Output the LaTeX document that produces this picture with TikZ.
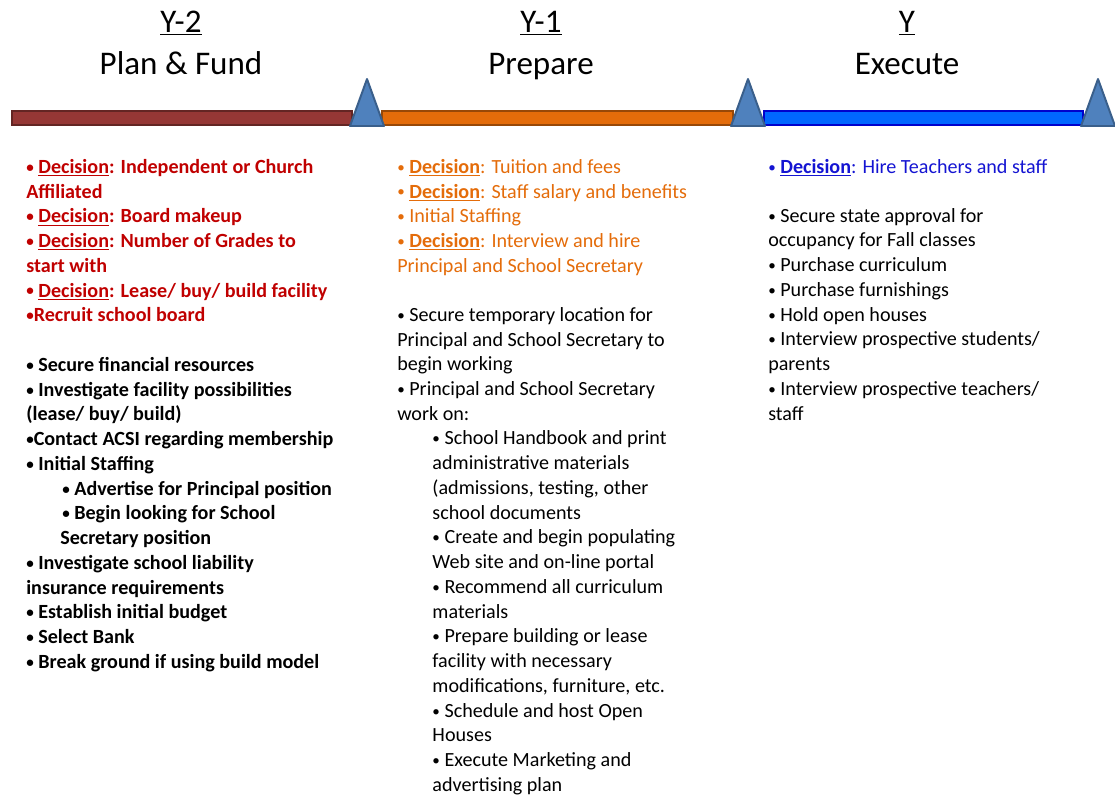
\documentclass[tikz,border=0pt]{standalone}
\usepackage{fontspec}
\setmainfont{Carlito}
\usepackage{xcolor}
\usepackage{tikz}
\usetikzlibrary{positioning}

\definecolor{fundred}{HTML}{953735}
\definecolor{fundredline}{HTML}{632523}
\definecolor{fundtext}{HTML}{C00000}
\definecolor{preporange}{HTML}{E46C0A}
\definecolor{prepline}{HTML}{984807}
\definecolor{execblue}{HTML}{0066FF}
\definecolor{execline}{HTML}{0000CC}
\definecolor{exectext}{HTML}{1414D2}
\definecolor{mileblue}{HTML}{4F81BD}
\definecolor{mileline}{HTML}{3A5F8B}

\tikzset{phasehead/.style={align=center, inner sep=0pt, font={\fontsize{23.5}{29.5}\selectfont}}}
\tikzset{phasebar/.style={line width=1.4pt}}
\tikzset{milestone/.style={line width=1.4pt, fill=mileblue, draw=mileline, line join=round}}
\tikzset{tasklist/.style={anchor=north west, align=left, inner sep=0pt, font={\fontsize{14.3}{17.6}\selectfont}}}

\newcommand{\decision}{\underline{\textbf{Decision}}}
\newcommand{\bul}{\raisebox{0.12ex}{\scalebox{0.75}{•}}}

\begin{document}
\begin{tikzpicture}[x=0.025cm, y=-0.025cm]
\useasboundingbox (0,0) rectangle (1115,795);

\node[phasehead] (head1) at (181,45) {\strut\underline{Y-2}\\\strut Plan \& Fund};
\node[phasehead] (head2) at (541,45) {\strut\underline{Y-1}\\\strut Prepare};
\node[phasehead] (head3) at (907,45) {\strut\underline{Y}\\\strut Execute};

\draw[phasebar, fill=fundred, draw=fundredline] (12,111) rectangle (352,125);
\draw[phasebar, fill=preporange, draw=prepline] (382,111) rectangle (733,125);
\draw[phasebar, fill=execblue, draw=execline] (764,111) rectangle (1083,125);

\draw[milestone] (350,126) -- (367,79) -- (384,126) -- cycle;
\draw[milestone] (731,126) -- (748,79) -- (765,126) -- cycle;
\draw[milestone] (1081,126) -- (1098,79) -- (1115,126) -- cycle;

\node[tasklist, text=fundtext, font={\bfseries\fontsize{14.3}{17.6}\selectfont}] (fund1) at (26,159) {%
\bul{} \decision: Independent or Church\\
Affiliated\\
\bul{} \decision: Board makeup\\
\bul{} \decision: Number of Grades to\\
start with\\
\bul{} \decision: Lease/ buy/ build facility\\
\bul Recruit school board};

\node[tasklist, font={\bfseries\fontsize{14.3}{17.6}\selectfont}] (fund2) at (26,357) {%
\bul{} Secure financial resources\\
\bul{} Investigate facility possibilities\\
(lease/ buy/ build)\\
\bul Contact ACSI regarding membership\\
\bul{} Initial Staffing\\
\hspace*{0.9cm}\bul{} Advertise for Principal position\\
\hspace*{0.9cm}\bul{} Begin looking for School\\
\hspace*{0.85cm}Secretary position\\
\bul{} Investigate school liability\\
insurance requirements\\
\bul{} Establish initial budget\\
\bul{} Select Bank\\
\bul{} Break ground if using build model};

\node[tasklist, text=preporange] (prep1) at (397,159) {%
\bul{} \decision: Tuition and fees\\
\bul{} \decision: Staff salary and benefits\\
\bul{} Initial Staffing\\
\bul{} \decision: Interview and hire\\
Principal and School Secretary};

\node[tasklist] (prep2) at (397,307) {%
\bul{} Secure temporary location for\\
Principal and School Secretary to\\
begin working\\
\bul{} Principal and School Secretary\\
work on:\\
\hspace*{0.88cm}\bul{} School Handbook and print\\
\hspace*{0.88cm}administrative materials\\
\hspace*{0.88cm}(admissions, testing, other\\
\hspace*{0.88cm}school documents\\
\hspace*{0.88cm}\bul{} Create and begin populating\\
\hspace*{0.88cm}Web site and on-line portal\\
\hspace*{0.88cm}\bul{} Recommend all curriculum\\
\hspace*{0.88cm}materials\\
\hspace*{0.88cm}\bul{} Prepare building or lease\\
\hspace*{0.88cm}facility with necessary\\
\hspace*{0.88cm}modifications, furniture, etc.\\
\hspace*{0.88cm}\bul{} Schedule and host Open\\
\hspace*{0.88cm}Houses\\
\hspace*{0.88cm}\bul{} Execute Marketing and\\
\hspace*{0.88cm}advertising plan};

\node[tasklist, text=exectext] (exec1) at (768,159) {%
\bul{} \decision: Hire Teachers and staff};

\node[tasklist] (exec2) at (768,208) {%
\bul{} Secure state approval for\\
occupancy for Fall classes\\
\bul{} Purchase curriculum\\
\bul{} Purchase furnishings\\
\bul{} Hold open houses\\
\bul{} Interview prospective students/\\
parents\\
\bul{} Interview prospective teachers/\\
staff};

\end{tikzpicture}
\end{document}
